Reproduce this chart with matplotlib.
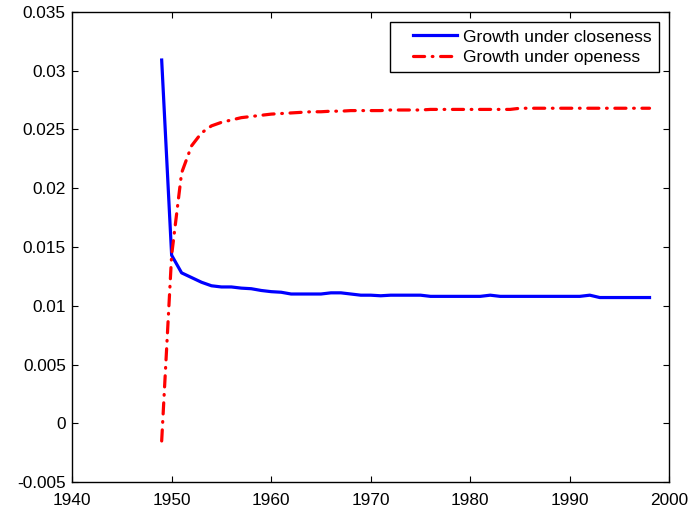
import matplotlib
matplotlib.use("Agg")
import matplotlib.pyplot as plt
from matplotlib.legend_handler import HandlerLine2D
from matplotlib.lines import Line2D
import numpy as np

plt.rcParams['font.family'] = ['Liberation Sans', 'DejaVu Sans']
plt.rcParams['lines.scale_dashes'] = False

years = list(range(1949, 1999))

closeness = [0.0309, 0.0143, 0.0128, 0.0124, 0.0120, 0.0117, 0.0116, 0.0116, 0.0115, 0.01145,
             0.0113, 0.0112, 0.01115, 0.0110, 0.0110, 0.0110, 0.0110, 0.0111, 0.0111, 0.0110,
             0.0109, 0.0109, 0.01085, 0.0109, 0.0109, 0.0109, 0.0109, 0.0108, 0.0108, 0.0108,
             0.0108, 0.0108, 0.0108, 0.0109, 0.0108, 0.0108, 0.0108, 0.0108, 0.0108, 0.0108,
             0.0108, 0.0108, 0.0108, 0.0109, 0.0107, 0.0107, 0.0107, 0.0107, 0.0107, 0.0107]

openness = [-0.0015, 0.0143, 0.0213, 0.0236, 0.0247, 0.0253, 0.0256, 0.0258, 0.0260, 0.0261,
            0.0262, 0.0263, 0.02635, 0.0264, 0.02645, 0.0265, 0.0265, 0.02655, 0.02655, 0.0266,
            0.0266, 0.0266, 0.0266, 0.02665, 0.02665, 0.02665, 0.02665, 0.0267, 0.0267, 0.0267,
            0.0267, 0.0267, 0.0267, 0.0267, 0.0267, 0.0267, 0.0268, 0.0268, 0.0268, 0.0268,
            0.0268, 0.0268, 0.0268, 0.0268, 0.0268, 0.0268, 0.0268, 0.0268, 0.0268, 0.0268]

xticks = [1940, 1950, 1960, 1970, 1980, 1990, 2000]
yticks = [-0.005, 0, 0.005, 0.01, 0.015, 0.02, 0.025, 0.03, 0.035]
ytick_labels = ['-0.005', '0', '0.005', '0.01', '0.015', '0.02', '0.025', '0.03', '0.035']
labels = ['Growth under closeness', 'Growth under openess']

fig = plt.figure(figsize=(6.93, 5.14), dpi=100)
ax = fig.add_axes([0.104, 0.062, 0.862, 0.915])

l1, = ax.plot(years, closeness, color='#0000ff', linewidth=2.3, label=labels[0])
l2, = ax.plot(years, openness, color='#ff0000', linewidth=2.3, label=labels[1],
              dashes=(8, 5.5, 0.5, 5.5), dash_capstyle='round')

ax.set_xlim(1940, 2000)
ax.set_ylim(-0.005, 0.035)
ax.set_xticks(xticks)
ax.set_yticks(yticks)
ax.set_yticklabels(ytick_labels)
ax.tick_params(direction='in', top=True, right=True, labelsize=12.4, length=4.5, width=0.8, pad=4.5)
ax.tick_params(axis='x', pad=8)
for s in ax.spines.values():
    s.set_linewidth(1.0)

hmap = {l1: HandlerLine2D(xpad=0.9), l2: HandlerLine2D(xpad=0.9)}
leg = ax.legend(loc='upper right', fontsize=12.6, frameon=True, fancybox=False,
                edgecolor='black', framealpha=1, handlelength=3.45, borderaxespad=0.6,
                borderpad=0.4, labelspacing=0.3, handletextpad=0.35, handler_map=hmap)
leg.get_frame().set_linewidth(1.0)

fig.savefig('out.png', dpi=100)
